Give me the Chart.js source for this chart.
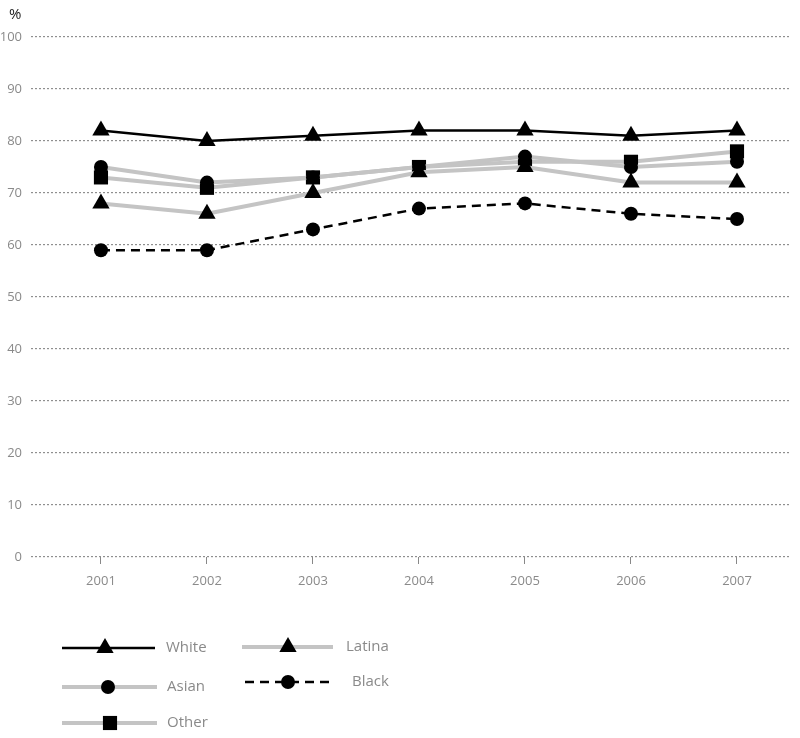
<!DOCTYPE html>
<html>
<head>
<meta charset="utf-8">
<script src="https://cdn.jsdelivr.net/npm/chart.js@4.4.1/dist/chart.umd.min.js"></script>
<style>
  html, body { margin: 0; padding: 0; background: #fff; }
  #wrap { position: relative; width: 800px; height: 738px; }
</style>
</head>
<body>
<div id="wrap"><canvas id="chart" width="800" height="738"></canvas></div>
<script>
/* ----------------------------------------------------------
   Data
   ---------------------------------------------------------- */
const years  = [2001, 2002, 2003, 2004, 2005, 2006, 2007];
const white  = [82, 80, 81, 82, 82, 81, 82];
const latina = [68, 66, 70, 74, 75, 72, 72];
const asian  = [75, 72, 73, 75, 77, 75, 76];
const black  = [59, 59, 63, 67, 68, 66, 65];
const other  = [73, 71, 73, 75, 76, 76, 78];
const yTicks = [0, 10, 20, 30, 40, 50, 60, 70, 80, 90, 100];

const INK   = '#000';
const GREY  = '#c4c4c4';
const TEXT  = '#8a8a8a';
const FONT  = "'Open Sans','DejaVu Sans',sans-serif";

function pts(values) {
  return values.map((v, i) => ({ x: years[i], y: v }));
}

function series(label, values, opts) {
  return {
    label,
    data: pts(values),
    borderColor: opts.grey ? GREY : INK,
    borderWidth: opts.grey ? 4 : 2.5,
    borderDash: opts.dash || [],
    pointStyle: opts.shape,
    pointRadius: opts.radius,
    pointBackgroundColor: INK,
    pointBorderColor: INK,
    pointBorderWidth: 0,
    tension: 0,
    fill: false,
    order: opts.order,
  };
}

const datasets = [
  series('White',  white,  { shape: 'triangle', radius: 10, order: 1 }),
  series('Black',  black,  { shape: 'circle',   radius: 7,  dash: [9, 6], order: 2 }),
  series('Latina', latina, { shape: 'triangle', radius: 10, grey: true, order: 3 }),
  series('Asian',  asian,  { shape: 'circle',   radius: 7,  grey: true, order: 4 }),
  series('Other',  other,  { shape: 'rect',     radius: 10, grey: true, order: 5 }),
];

/* ----------------------------------------------------------
   Legend + "%" label drawn straight onto the canvas
   ---------------------------------------------------------- */
const legendRows = [
  { label: 'White',  x0: 62,  x1: 155, mx: 105, tx: 166, y: 648 },
  { label: 'Latina', x0: 242, x1: 333, mx: 288, tx: 346, y: 647 },
  { label: 'Asian',  x0: 62,  x1: 157, mx: 108, tx: 167, y: 687 },
  { label: 'Black',  x0: 245, x1: 332, mx: 288, tx: 352, y: 682 },
  { label: 'Other',  x0: 62,  x1: 157, mx: 110, tx: 167, y: 723 },
];

function drawMarker(ctx, shape, r, x, y) {
  ctx.beginPath();
  if (shape === 'triangle') {
    for (let k = 0; k < 3; k++) {
      const a = k * 2 * Math.PI / 3;
      const px = x + Math.sin(a) * r, py = y - Math.cos(a) * r;
      k ? ctx.lineTo(px, py) : ctx.moveTo(px, py);
    }
    ctx.closePath();
  } else if (shape === 'rect') {
    const s = Math.SQRT1_2 * r;
    ctx.rect(x - s, y - s, 2 * s, 2 * s);
  } else {
    ctx.arc(x, y, r, 0, Math.PI * 2);
  }
  ctx.fillStyle = INK;
  ctx.fill();
}

const extrasPlugin = {
  id: 'extras',
  afterDraw(chart) {
    const ctx = chart.ctx;
    ctx.save();
    ctx.fillStyle = '#222';
    ctx.font = `15px ${FONT}`;
    ctx.textBaseline = 'middle';
    ctx.textAlign = 'left';
    ctx.fillText('%', 9, 15);

    legendRows.forEach(row => {
      const ds = chart.data.datasets.find(d => d.label === row.label);
      ctx.beginPath();
      ctx.strokeStyle = ds.borderColor;
      ctx.lineWidth = ds.borderWidth;
      ctx.setLineDash(ds.borderDash);
      ctx.moveTo(row.x0, row.y);
      ctx.lineTo(row.x1, row.y);
      ctx.stroke();
      ctx.setLineDash([]);
      drawMarker(ctx, ds.pointStyle, ds.pointRadius, row.mx, row.y);
      ctx.fillStyle = TEXT;
      ctx.font = `15px ${FONT}`;
      ctx.fillText(row.label, row.tx, row.y);
    });
    ctx.restore();
  },
};

/* ----------------------------------------------------------
   Chart
   ---------------------------------------------------------- */
new Chart(document.getElementById('chart'), {
  type: 'line',
  data: { datasets },
  plugins: [extrasPlugin],
  options: {
    responsive: false,
    animation: false,
    layout: { padding: { top: 37, right: 10, left: 0, bottom: 0 } },
    plugins: { legend: { display: false }, tooltip: { enabled: false } },
    scales: {
      x: {
        type: 'linear',
        min: 2000.34,
        max: 2007.5,
        afterBuildTicks: (scale) => { scale.ticks = years.map(v => ({ value: v })); },
        afterFit: (scale) => { scale.height = 181; },
        border: { display: false },
        grid: { drawOnChartArea: false, drawTicks: true, tickLength: 7, color: '#888', lineWidth: 1 },
        ticks: {
          color: TEXT,
          font: { family: FONT, size: 13 },
          padding: 9,
          maxRotation: 0,
          callback: (v) => String(v),
        },
      },
      y: {
        min: 0,
        max: 100,
        afterBuildTicks: (scale) => { scale.ticks = yTicks.map(v => ({ value: v })); },
        afterFit: (scale) => { scale.width = 31; },
        border: { display: false, dash: [2, 2] },
        grid: { color: '#8f8f8f', lineWidth: 1.2, drawTicks: false },
        ticks: { color: TEXT, font: { family: FONT, size: 13 }, padding: 9 },
      },
    },
  },
});
</script>
</body>
</html>
